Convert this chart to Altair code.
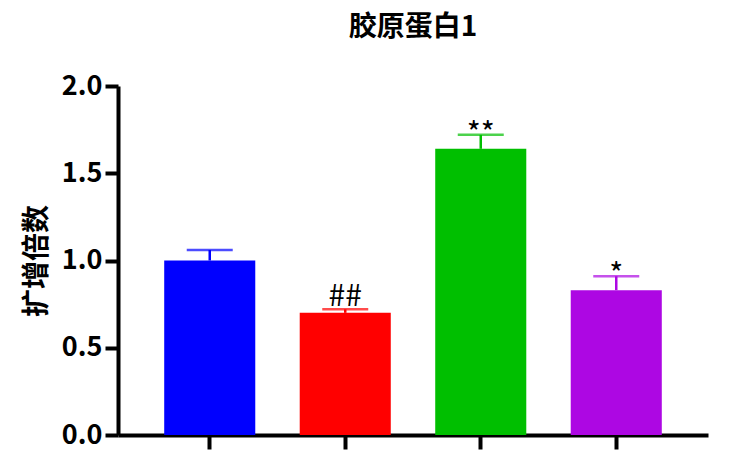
import altair as alt
import pandas as pd

groups = ["组1", "组2", "组3", "组4"]
means = [1.00, 0.70, 1.64, 0.83]
errors = [0.06, 0.02, 0.08, 0.08]
marks = ["", "##", "**", "*"]
colors = ["#0000FF", "#FF0000", "#00BF00", "#AD07E3"]

df = pd.DataFrame({
    "group": groups,
    "mean": means,
    "upper": [m + e for m, e in zip(means, errors)],
    "mark": marks,
})

FONT = "Noto Sans CJK SC"

xenc = alt.X("group:N", sort=groups,
             scale=alt.Scale(paddingInner=0.328, paddingOuter=0.341),
             axis=alt.Axis(labels=False, title=None, domainWidth=4, domainColor="black",
                           tickWidth=4, tickSize=14, tickColor="black"))
color = alt.Color("group:N", scale=alt.Scale(domain=groups, range=colors), legend=None)

bars = alt.Chart(df).mark_bar().encode(
    x=xenc,
    y=alt.Y("mean:Q", scale=alt.Scale(domain=[0, 2.0], nice=False),
            axis=alt.Axis(values=[0, 0.5, 1.0, 1.5, 2.0], format=".1f", grid=False,
                          title="扩增倍数", titleFont=FONT, titleFontSize=28,
                          titleFontWeight="bold", titleColor="black", titlePadding=10,
                          labelFont=FONT, labelFontSize=27, labelFontWeight="bold",
                          labelColor="black", labelPadding=3,
                          domainWidth=4, domainColor="black",
                          tickWidth=4, tickSize=13, tickColor="black")),
    color=color,
)

rules = alt.Chart(df).mark_rule(strokeWidth=2.5).encode(
    x=alt.X("group:N", sort=groups),
    y="mean:Q",
    y2="upper:Q",
    color=color,
)

caps = alt.Chart(df).mark_tick(size=46, thickness=2.5, orient="horizontal").encode(
    x=alt.X("group:N", sort=groups),
    y="upper:Q",
    color=color,
)

hash_text = alt.Chart(df).transform_filter(alt.datum.mark == "##").mark_text(
    font=FONT, fontSize=30, baseline="alphabetic", dy=-3, color="black"
).encode(x=alt.X("group:N", sort=groups), y="upper:Q", text="mark:N")

star_text = alt.Chart(df).transform_filter(
    (alt.datum.mark == "*") | (alt.datum.mark == "**")
).mark_text(
    font=FONT, fontSize=30, baseline="alphabetic", dy=9, color="black"
).encode(x=alt.X("group:N", sort=groups), y="upper:Q", text="mark:N")

chart = alt.layer(bars, rules, caps, hash_text, star_text).properties(
    width=590, height=349,
    title=alt.TitleParams("胶原蛋白1", font=FONT, fontSize=28, fontWeight="bold",
                          color="black", anchor="middle", offset=30),
    autosize=alt.AutoSizeParams(type="none"),
    padding={"left": 110, "top": 78, "right": 20, "bottom": 18},
).configure_view(stroke=None)

chart.save("out.html", embed_options={"renderer": "svg", "actions": False})
